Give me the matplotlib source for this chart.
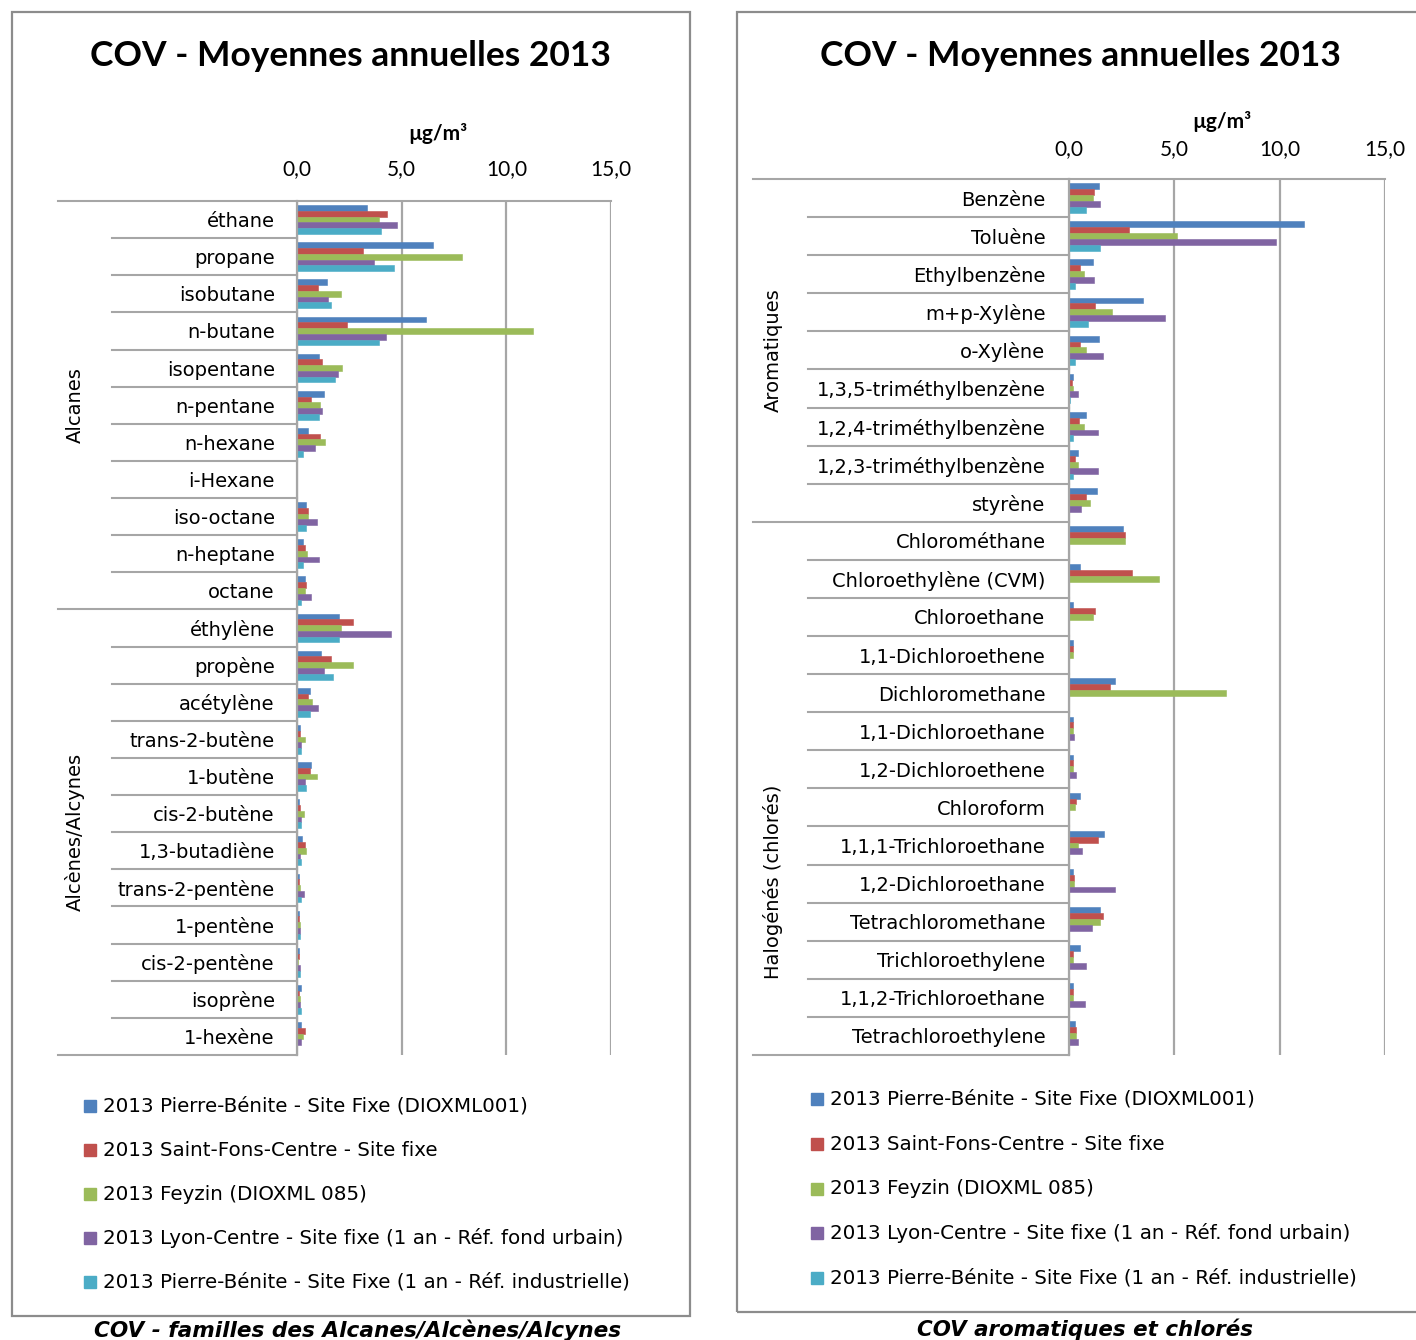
import numpy as np
import matplotlib
matplotlib.use("Agg")
import matplotlib.pyplot as plt
from matplotlib.patches import Rectangle
from matplotlib.transforms import blended_transform_factory

# Series names and colours (Excel 2007 palette)
series_names = [
    "2013 Pierre-Bénite - Site Fixe (DIOXML001)",
    "2013 Saint-Fons-Centre - Site fixe",
    "2013 Feyzin (DIOXML 085)",
    "2013 Lyon-Centre - Site fixe (1 an - Réf. fond urbain)",
    "2013 Pierre-Bénite - Site Fixe (1 an - Réf. industrielle)",
]
colors = ["#4F81BD", "#C0504D", "#9BBB59", "#8064A2", "#4BACC6"]
nan = np.nan

# --- Alcanes / Alcènes / Alcynes (µg/m3) ---
cats_left = ["éthane", "propane", "isobutane", "n-butane", "isopentane", "n-pentane",
             "n-hexane", "i-Hexane", "iso-octane", "n-heptane", "octane",
             "éthylène", "propène", "acétylène", "trans-2-butène", "1-butène",
             "cis-2-butène", "1,3-butadiène", "trans-2-pentène", "1-pentène",
             "cis-2-pentène", "isoprène", "1-hexène"]
pb_left = [3.35, 6.49, 1.44, 6.16, 1.05, 1.28, 0.54, nan, 0.41, 0.30, 0.37,
           2.01, 1.16, 0.61, 0.14, 0.65, 0.10, 0.26, 0.10, 0.10, 0.10, 0.21, 0.21]
sf_left = [4.29, 3.13, 1.00, 2.41, 1.21, 0.65, 1.10, nan, 0.54, 0.38, 0.43,
           2.68, 1.61, 0.54, 0.14, 0.61, 0.16, 0.38, 0.10, 0.10, 0.10, 0.08, 0.38]
fz_left = [3.91, 7.89, 2.12, 11.26, 2.17, 1.10, 1.32, nan, 0.54, 0.48, 0.37,
           2.12, 2.68, 0.70, 0.37, 0.94, 0.32, 0.45, 0.14, 0.14, 0.05, 0.14, 0.30]
ly_left = [4.80, 3.68, 1.50, 4.26, 1.96, 1.21, 0.88, nan, 0.94, 1.05, 0.65,
           4.47, 1.28, 1.00, 0.21, 0.37, 0.21, 0.14, 0.32, 0.14, 0.14, 0.14, 0.21]
pbi_left = [4.02, 4.64, 1.61, 3.92, 1.83, 1.05, 0.30, nan, 0.41, 0.30, 0.19,
            2.01, 1.72, 0.61, 0.21, 0.43, 0.21, 0.21, 0.21, 0.14, 0.14, 0.21, nan]

# --- Aromatiques / Halogénés (µg/m3) ---
cats_right = ["Benzène", "Toluène", "Ethylbenzène", "m+p-Xylène", "o-Xylène",
              "1,3,5-triméthylbenzène", "1,2,4-triméthylbenzène",
              "1,2,3-triméthylbenzène", "styrène", "Chlorométhane",
              "Chloroethylène (CVM)", "Chloroethane", "1,1-Dichloroethene",
              "Dichloromethane", "1,1-Dichloroethane", "1,2-Dichloroethene",
              "Chloroform", "1,1,1-Trichloroethane", "1,2-Dichloroethane",
              "Tetrachloromethane", "Trichloroethylene", "1,1,2-Trichloroethane",
              "Tetrachloroethylene"]
pb_right = [1.43, 11.16, 1.14, 3.50, 1.43, 0.19, 0.81, 0.41, 1.32, 2.57, 0.52, 0.19,
            0.19, 2.16, 0.19, 0.19, 0.52, 1.65, 0.19, 1.47, 0.52, 0.19, 0.30]
sf_right = [1.20, 2.84, 0.52, 1.25, 0.52, 0.13, 0.48, 0.30, 0.81, 2.68, 3.01, 1.25,
            0.19, 1.93, 0.19, 0.19, 0.35, 1.38, 0.25, 1.60, 0.19, 0.19, 0.35]
fz_right = [1.14, 5.13, 0.70, 2.04, 0.81, 0.19, 0.70, 0.41, 0.98, 2.68, 4.25, 1.14,
            0.19, 7.45, 0.19, 0.19, 0.30, 0.41, 0.25, 1.47, 0.19, 0.19, 0.35]
ly_right = [1.47, 9.81, 1.20, 4.58, 1.60, 0.41, 1.38, 1.38, 0.59, nan, nan, nan,
            nan, nan, 0.25, 0.35, nan, 0.63, 2.16, 1.09, 0.81, 0.74, 0.41]
pbi_right = [0.81, 1.47, 0.29, 0.92, 0.29, 0.06, 0.19, 0.19, nan, nan, nan, nan,
             nan, nan, nan, nan, nan, nan, nan, nan, nan, nan, nan]

W, H = 1416, 1340
GREY = "#A6A6A6"
LABEL_FONT = "DejaVu Sans"
TITLE_FONT = "Lato"

fig = plt.figure(figsize=(W / 100, H / 100), dpi=100)


def box(x0, y0, x1, y1):
    return [x0 / W, 1 - y1 / H, (x1 - x0) / W, (y1 - y0) / H]


def panel(ax, cats, data, group_bounds, cat_x, grp_x, pad, xpad):
    n = len(cats)
    y = np.arange(n)
    h = 0.155
    for k, (vals, col) in enumerate(zip(data, colors)):
        ax.barh(y + (k - 2) * h, vals, height=h, color=col,
                edgecolor=col, linewidth=0.4, zorder=3)
    ax.set_xlim(0, 15)
    ax.set_ylim(n - 0.5, -0.5)
    ax.xaxis.tick_top()
    ax.set_xticks([0, 5, 10, 15])
    ax.set_xticklabels(["0,0", "5,0", "10,0", "15,0"], family=TITLE_FONT, fontsize=15)
    ax.set_yticks(y)
    ax.set_yticklabels(cats, family=LABEL_FONT, fontsize=14)
    ax.tick_params(axis="x", length=0, pad=xpad)
    ax.tick_params(axis="y", length=0, pad=pad)
    ax.grid(axis="x", color=GREY, linewidth=1.6, zorder=0)
    for s in ["top", "right", "bottom"]:
        ax.spines[s].set_visible(False)
    ax.spines["left"].set_color(GREY)
    ax.spines["left"].set_linewidth(1.6)
    ax.spines["left"].set_zorder(4)

    # separators between categories, longer ones between families
    trans = blended_transform_factory(ax.transAxes, ax.transData)
    for b in np.arange(n + 1) - 0.5:
        x0 = grp_x if b in group_bounds else cat_x
        x1 = 1.0 if b == -0.5 else 0.0
        ax.plot([x0, x1], [b, b], transform=trans, color=GREY,
                linewidth=1.5, clip_on=False, zorder=2)


left_data = [pb_left, sf_left, fz_left, ly_left, pbi_left]
right_data = [pb_right, sf_right, fz_right, ly_right, pbi_right]

ax1 = fig.add_axes(box(297, 201, 611, 1055))
panel(ax1, cats_left, left_data, [-0.5, 10.5, 22.5],
      (112 - 297) / 314, (58 - 297) / 314, 16, 15.5)

ax2 = fig.add_axes(box(1069, 179, 1385, 1055))
panel(ax2, cats_right, right_data, [-0.5, 8.5, 22.5],
      (808 - 1069) / 316, (753 - 1069) / 316, 17, 14)


def ftext(x, y, s, **kw):
    fig.text(x / W, 1 - y / H, s, ha=kw.pop("ha", "center"),
             va=kw.pop("va", "center"), **kw)


# panel frames
fig.add_artist(Rectangle((12 / W, 1 - 1316 / H), 678 / W, 1304 / H,
                         transform=fig.transFigure, fill=False,
                         edgecolor="#8C8C8C", linewidth=1.6))
fig.add_artist(Rectangle((737 / W, 1 - 1312 / H), 700 / W, 1300 / H,
                         transform=fig.transFigure, fill=False,
                         edgecolor="#8C8C8C", linewidth=1.6))

# titles and units
ftext(350, 56, "COV - Moyennes annuelles 2013", family=TITLE_FONT,
      fontweight="bold", fontsize=25.5)
ftext(1080, 56, "COV - Moyennes annuelles 2013", family=TITLE_FONT,
      fontweight="bold", fontsize=25.5)
ftext(438, 133, "µg/m³", family=TITLE_FONT, fontweight="bold", fontsize=15)
ftext(1222, 121, "µg/m³", family=TITLE_FONT, fontweight="bold", fontsize=15)

# family labels
ftext(75, 405, "Alcanes", rotation=90, family=LABEL_FONT, fontsize=14)
ftext(75, 832, "Alcènes/Alcynes", rotation=90, family=LABEL_FONT, fontsize=14)
ftext(773, 350, "Aromatiques", rotation=90, family=LABEL_FONT, fontsize=14)
ftext(773, 882, "Halogénés (chlorés)", rotation=90, family=LABEL_FONT, fontsize=14)

# legends
for ys, xs in [([1106, 1150, 1194, 1238, 1282], 84), ([1099, 1144, 1189, 1233, 1278], 811)]:
    for yy, name, col in zip(ys, series_names, colors):
        fig.add_artist(Rectangle((xs / W, 1 - (yy + 6) / H), 12 / W, 12 / H,
                                 transform=fig.transFigure, color=col))
        ftext(xs + 19, yy, name, ha="left", family=LABEL_FONT, fontsize=14.3)

# captions
ftext(358, 1330, "COV - familles des Alcanes/Alcènes/Alcynes", family=LABEL_FONT,
      fontweight="bold", style="italic", fontsize=15.6)
ftext(1085, 1329, "COV aromatiques et chlorés", family=LABEL_FONT,
      fontweight="bold", style="italic", fontsize=15.4)

fig.savefig("out.png", dpi=100)
